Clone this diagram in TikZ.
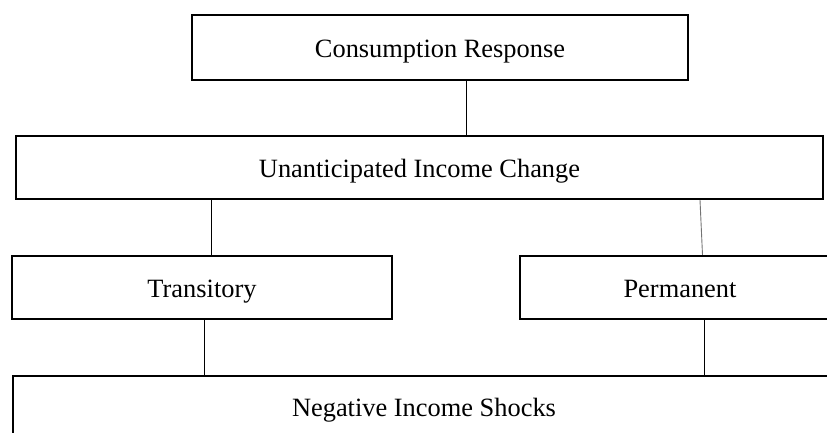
\documentclass[tikz,border=0pt]{standalone}
\usepackage{fontspec}
\setmainfont{Liberation Serif}
\begin{document}
\begin{tikzpicture}[x=1pt,y=-1pt,
  box/.style={draw=black, line width=2.2pt, fill=white, inner sep=0pt, text height=21pt, text depth=2pt, font=\fontsize{26.4}{30}\selectfont},
  conn/.style={draw=black, line width=0.9pt}]
\useasboundingbox (0,0) rectangle (827,432);
\clip (0,0) rectangle (827,432);
\node[box, minimum width=496pt, minimum height=65pt] (top) at (440,47.5) {Consumption Response};
\node[box, minimum width=807pt, minimum height=63pt] (mid) at (419.5,167.5) {Unanticipated Income Change};
\node[box, minimum width=380pt, minimum height=63pt] (trans) at (202,287.5) {Transitory};
\node[box, minimum width=320pt, minimum height=63pt] (perm) at (680,287.5) {Permanent};
\node[box, minimum width=822pt, minimum height=62pt] (neg) at (424,407) {Negative Income Shocks};
\coordinate (c1) at (466,0);
\coordinate (c2) at (211.5,0);
\coordinate (c3a) at (700,0);
\coordinate (c3b) at (702.5,0);
\coordinate (c4) at (204,0);
\coordinate (c5) at (704,0);
\draw[conn] (top.south -| c1) -- (mid.north -| c1);
\draw[conn] (mid.south -| c2) -- (trans.north -| c2);
\draw[conn, draw=black!55] (mid.south -| c3a) -- (perm.north -| c3b);
\draw[conn] (trans.south -| c4) -- (neg.north -| c4);
\draw[conn] (perm.south -| c5) -- (neg.north -| c5);
\end{tikzpicture}
\end{document}
